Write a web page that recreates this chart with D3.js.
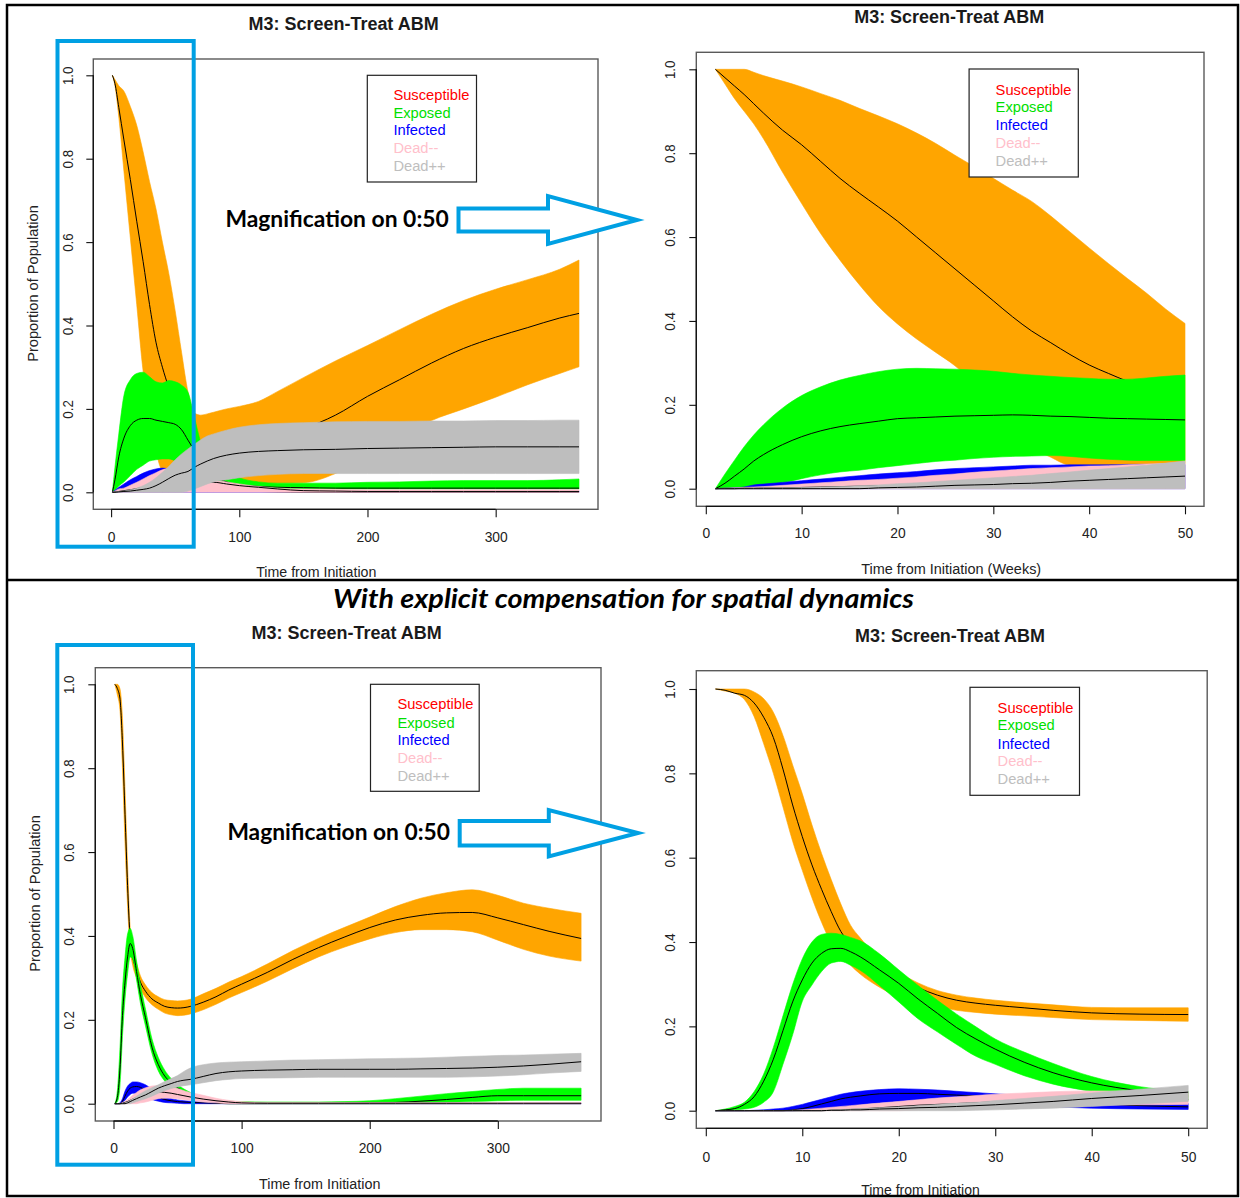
<!DOCTYPE html>
<html><head><meta charset="utf-8">
<script src="https://cdn.jsdelivr.net/npm/d3@7"></script>
<style>html,body{margin:0;padding:0;background:#fff;}svg{display:block;}</style>
</head><body>
<svg id="c" width="1240" height="1198"></svg>
<script>
// ---------------- DATA ----------------
const seriesNames = ["Susceptible","Exposed","Infected","Dead--","Dead++"];
const bandColors = ["#FFA500","#00FF00","#0000FF","#FFC0CB","#BEBEBE"];
const legendColors = ["#FF0000","#00E000","#0000FF","#FFC0CB","#BEBEBE"];
const xTicksDays = [0,100,200,300];
const xTicksWeeks = [0,10,20,30,40,50];
const yTicks = [0,0.2,0.4,0.6,0.8,1.0];

// Panel 1: top-left (0..365)
const p1_t = [1,3,6,10,15,20,25,30,35,40,45,50,55,60,65,70,75,80,90,100,115,130,150,175,200,225,250,275,300,325,350,365];
const p1_S_hi = [1.0,0.99,0.975,0.962,0.925,0.88,0.816,0.745,0.68,0.6,0.525,0.435,0.335,0.24,0.19,0.185,0.188,0.192,0.2,0.206,0.218,0.242,0.275,0.315,0.352,0.39,0.427,0.46,0.487,0.51,0.535,0.557];
const p1_S_lo = [1.0,0.975,0.9,0.77,0.61,0.45,0.29,0.2,0.1,0.053,0.05,0.045,0.04,0.035,0.03,0.028,0.027,0.026,0.025,0.024,0.022,0.022,0.023,0.045,0.085,0.13,0.172,0.2,0.228,0.258,0.285,0.301];
const p1_S_mid = [1.0,0.98,0.923,0.845,0.75,0.65,0.553,0.45,0.36,0.3,0.25,0.2,0.16,0.14,0.13,0.115,0.11,0.108,0.107,0.11,0.118,0.13,0.152,0.185,0.23,0.27,0.31,0.345,0.372,0.395,0.418,0.429];
const p1_E_hi = [0,0.06,0.14,0.232,0.27,0.285,0.288,0.277,0.265,0.262,0.268,0.265,0.257,0.24,0.18,0.12,0.09,0.07,0.05,0.035,0.025,0.022,0.022,0.022,0.024,0.025,0.027,0.028,0.028,0.028,0.03,0.032];
const p1_E_lo = [0,0.005,0.015,0.025,0.04,0.055,0.065,0.075,0.078,0.08,0.08,0.075,0.065,0.05,0.04,0.03,0.025,0.02,0.015,0.012,0.01,0.008,0.008,0.008,0.008,0.008,0.008,0.008,0.008,0.008,0.008,0.008];
const p1_E_mid = [0,0.03,0.085,0.13,0.16,0.173,0.177,0.177,0.173,0.17,0.167,0.163,0.15,0.125,0.1,0.075,0.055,0.04,0.025,0.018,0.014,0.012,0.011,0.01,0.01,0.01,0.01,0.01,0.01,0.01,0.01,0.01];
const p1_I_hi = [0,0.005,0.012,0.02,0.03,0.038,0.046,0.052,0.056,0.058,0.056,0.052,0.047,0.042,0.037,0.032,0.028,0.024,0.018,0.013,0.008,0.005,0.004,0.003,0.003,0.003,0.003,0.003,0.003,0.003,0.003,0.003];
const p1_I_lo = [0,0,0,0,0,0,0,0,0,0,0,0,0,0,0,0,0,0,0,0,0,0,0,0,0,0,0,0,0,0,0,0];
const p1_I_mid = [0,0.002,0.005,0.008,0.012,0.016,0.02,0.022,0.024,0.025,0.024,0.022,0.02,0.017,0.015,0.012,0.01,0.008,0.005,0.003,0.002,0.001,0,0,0,0,0,0,0,0,0,0];
const p1_D1_hi = [0,0.003,0.008,0.01,0.017,0.024,0.032,0.04,0.047,0.054,0.057,0.052,0.045,0.04,0.036,0.033,0.031,0.029,0.025,0.02,0.014,0.01,0.008,0.007,0.006,0.006,0.006,0.006,0.006,0.006,0.006,0.006];
const p1_D1_lo = [0,0,0,0,0,0,0,0,0,0,0,0,0,0,0,0,0,0,0,0,0,0,0,0,0,0,0,0,0,0,0,0];
const p1_D1_mid = [0,0.001,0.002,0.004,0.006,0.009,0.012,0.015,0.018,0.021,0.023,0.024,0.024,0.024,0.024,0.024,0.024,0.024,0.02,0.016,0.012,0.008,0.004,0.003,0.002,0.002,0.002,0.002,0.002,0.002,0.002,0.002];
const p1_D2_hi = [0,0.001,0.002,0.003,0.006,0.01,0.016,0.024,0.035,0.048,0.062,0.078,0.092,0.104,0.115,0.126,0.135,0.14,0.149,0.156,0.162,0.165,0.167,0.169,0.17,0.17,0.171,0.171,0.172,0.172,0.173,0.173];
const p1_D2_lo = [0,0,0,0,0,0,0,0,0,0,0,0,0,0.003,0.008,0.014,0.02,0.025,0.03,0.035,0.04,0.043,0.045,0.045,0.045,0.045,0.045,0.045,0.045,0.045,0.045,0.045];
const p1_D2_mid = [0,0,0.001,0.002,0.003,0.005,0.007,0.01,0.016,0.024,0.033,0.041,0.046,0.05,0.06,0.068,0.075,0.081,0.089,0.094,0.098,0.1,0.102,0.103,0.105,0.106,0.107,0.108,0.109,0.109,0.109,0.109];

// Panel 2: top-right (weeks 0..50)
const p2_t = [1,2,3,4,5,6,8,10,12,14,16,18,20,22,24,26,28,30,32,34,36,38,40,42,44,46,48,50];
const p2_S_hi = [1.0,1.0,1.0,1.0,0.993,0.985,0.972,0.958,0.942,0.926,0.907,0.889,0.87,0.848,0.823,0.795,0.768,0.74,0.712,0.685,0.65,0.612,0.574,0.537,0.501,0.466,0.428,0.394];
const p2_S_lo = [1.0,0.965,0.93,0.9,0.87,0.835,0.755,0.68,0.608,0.545,0.487,0.435,0.393,0.357,0.325,0.293,0.25,0.2,0.15,0.1,0.075,0.056,0.054,0.054,0.055,0.056,0.058,0.06];
const p2_S_mid = [1.0,0.98,0.96,0.94,0.918,0.896,0.855,0.82,0.78,0.74,0.705,0.672,0.638,0.6,0.562,0.524,0.486,0.448,0.41,0.376,0.348,0.32,0.295,0.275,0.256,0.24,0.226,0.214];
const p2_E_hi = [0,0.035,0.068,0.1,0.128,0.152,0.192,0.222,0.243,0.259,0.27,0.279,0.285,0.287,0.286,0.285,0.283,0.28,0.275,0.271,0.268,0.265,0.263,0.261,0.261,0.264,0.268,0.271];
const p2_E_lo = [0,0.001,0.002,0.004,0.005,0.008,0.014,0.024,0.033,0.04,0.044,0.05,0.055,0.06,0.065,0.068,0.072,0.075,0.077,0.078,0.079,0.077,0.073,0.07,0.068,0.067,0.067,0.067];
const p2_E_mid = [0,0.013,0.03,0.047,0.066,0.081,0.105,0.124,0.138,0.148,0.155,0.161,0.167,0.169,0.171,0.173,0.174,0.175,0.176,0.175,0.173,0.172,0.17,0.168,0.167,0.166,0.165,0.164];
const p2_I_hi = [0,0.001,0.002,0.004,0.009,0.011,0.015,0.019,0.023,0.027,0.031,0.035,0.038,0.041,0.045,0.048,0.05,0.052,0.054,0.056,0.056,0.057,0.057,0.057,0.058,0.058,0.058,0.058];
const p2_I_lo = [0,0,0,0,0,0,0,0,0,0,0,0,0,0,0,0,0,0,0,0,0,0,0,0,0,0,0,0];
const p2_I_mid = [0,0.001,0.001,0.002,0.003,0.003,0.005,0.007,0.008,0.01,0.012,0.013,0.015,0.016,0.018,0.019,0.02,0.021,0.022,0.023,0.024,0.025,0.026,0.027,0.027,0.028,0.028,0.029];
const p2_D1_hi = [0,0.001,0.002,0.003,0.004,0.005,0.008,0.011,0.014,0.017,0.02,0.022,0.025,0.028,0.032,0.035,0.039,0.042,0.045,0.048,0.05,0.052,0.054,0.055,0.057,0.059,0.06,0.062];
const p2_D1_lo = [0,0,0,0,0,0,0,0,0,0,0,0,0,0,0,0,0,0,0,0,0,0,0,0,0,0,0,0];
const p2_D1_mid = [0,0,0,0.001,0.001,0.002,0.002,0.003,0.004,0.005,0.006,0.007,0.008,0.009,0.01,0.011,0.012,0.013,0.014,0.015,0.016,0.017,0.018,0.019,0.02,0.021,0.022,0.023];
const p2_D2_hi = [0,0.001,0.001,0.001,0.001,0.002,0.002,0.003,0.004,0.005,0.007,0.009,0.012,0.014,0.017,0.02,0.023,0.026,0.029,0.032,0.036,0.04,0.044,0.048,0.052,0.056,0.061,0.066];
const p2_D2_lo = [0,0,0,0,0,0,0,0,0,0,0,0,0,0,0,0,0,0,0,0,0,0,0,0,0,0,0,0];
const p2_D2_mid = [0,0,0,0,0,0,0,0,0,0,0,0.002,0.003,0.004,0.006,0.008,0.009,0.01,0.012,0.013,0.015,0.018,0.02,0.022,0.024,0.026,0.028,0.03];

// Panel 3: bottom-left (0..365)
const p3_t = [1,3,5,7,9,11,13,15,18,21,25,30,35,40,45,50,55,60,70,80,90,100,120,140,160,180,200,220,240,260,280,300,320,340,365];
const p3_S_mid = [1.0,0.99,0.967,0.86,0.69,0.52,0.395,0.35,0.318,0.29,0.268,0.25,0.24,0.232,0.229,0.228,0.229,0.232,0.242,0.255,0.271,0.285,0.313,0.344,0.372,0.397,0.42,0.438,0.449,0.455,0.456,0.443,0.427,0.411,0.394];
const p3_S_hi = [1.0,1.0,0.99,0.92,0.75,0.57,0.42,0.37,0.335,0.305,0.283,0.265,0.255,0.248,0.246,0.245,0.246,0.249,0.262,0.275,0.29,0.303,0.333,0.365,0.394,0.42,0.445,0.47,0.49,0.503,0.51,0.497,0.478,0.466,0.454];
const p3_S_lo = [1.0,0.975,0.94,0.8,0.62,0.47,0.37,0.33,0.3,0.275,0.253,0.236,0.225,0.216,0.212,0.21,0.211,0.214,0.224,0.237,0.252,0.265,0.292,0.322,0.35,0.373,0.393,0.408,0.415,0.415,0.41,0.39,0.368,0.352,0.34];
const p3_E_mid = [0,0.015,0.08,0.21,0.29,0.35,0.382,0.37,0.315,0.26,0.205,0.135,0.093,0.066,0.05,0.038,0.028,0.02,0.01,0.005,0.003,0.002,0.001,0.001,0.001,0.001,0.002,0.003,0.006,0.01,0.015,0.019,0.019,0.019,0.019];
const p3_E_hi = [0,0.03,0.13,0.27,0.35,0.405,0.418,0.4,0.34,0.285,0.225,0.155,0.11,0.08,0.06,0.046,0.035,0.027,0.016,0.01,0.006,0.005,0.004,0.004,0.004,0.005,0.007,0.012,0.018,0.024,0.029,0.034,0.037,0.037,0.037];
const p3_E_lo = [0,0.005,0.04,0.16,0.25,0.31,0.35,0.345,0.295,0.24,0.185,0.12,0.078,0.054,0.04,0.03,0.021,0.014,0.006,0.002,0,0,0,0,0,0,0,0,0.001,0.003,0.005,0.007,0.008,0.008,0.008];
const p3_I_hi = [0,0,0.002,0.012,0.03,0.042,0.048,0.052,0.052,0.05,0.045,0.035,0.025,0.016,0.012,0.009,0.007,0.006,0.004,0.003,0.002,0.001,0.001,0.001,0.001,0.001,0.001,0.001,0.001,0.001,0.001,0.001,0.001,0.001,0.001];
const p3_I_lo = [0,0,0,0.002,0.008,0.016,0.022,0.025,0.025,0.022,0.016,0.01,0.006,0.003,0.002,0.001,0,0,0,0,0,0,0,0,0,0,0,0,0,0,0,0,0,0,0];
const p3_I_mid = [0,0,0,0.006,0.018,0.03,0.037,0.04,0.041,0.039,0.032,0.022,0.015,0.01,0.007,0.005,0.004,0.003,0.002,0.001,0,0,0,0,0,0,0,0,0,0,0,0,0,0,0];
const p3_D1_hi = [0,0,0,0.003,0.006,0.01,0.015,0.02,0.027,0.033,0.038,0.042,0.043,0.042,0.04,0.036,0.031,0.027,0.02,0.013,0.008,0.005,0.003,0.003,0.003,0.003,0.003,0.003,0.003,0.003,0.003,0.003,0.003,0.003,0.003];
const p3_D1_lo = [0,0,0,0,0,0,0,0,0,0.002,0.004,0.008,0.012,0.013,0.013,0.012,0.01,0.008,0.004,0.002,0,0,0,0,0,0,0,0,0,0,0,0,0,0,0];
const p3_D1_mid = [0,0,0,0.001,0.003,0.005,0.008,0.011,0.015,0.019,0.024,0.027,0.028,0.027,0.025,0.022,0.019,0.016,0.011,0.007,0.004,0.002,0.001,0.001,0.001,0.001,0.001,0.001,0.001,0.001,0.001,0.001,0.001,0.001,0.001];
const p3_D2_hi = [0,0,0,0,0.002,0.004,0.008,0.012,0.018,0.024,0.031,0.038,0.045,0.053,0.06,0.067,0.077,0.085,0.093,0.097,0.099,0.1,0.102,0.104,0.105,0.106,0.107,0.108,0.109,0.111,0.113,0.115,0.116,0.118,0.12];
const p3_D2_lo = [0,0,0,0,0,0,0,0.002,0.005,0.008,0.012,0.018,0.025,0.031,0.036,0.04,0.043,0.045,0.05,0.055,0.058,0.06,0.061,0.062,0.063,0.063,0.063,0.063,0.063,0.063,0.064,0.066,0.069,0.073,0.077];
const p3_D2_mid = [0,0,0,0,0,0.002,0.005,0.008,0.012,0.016,0.021,0.029,0.037,0.043,0.048,0.053,0.056,0.058,0.065,0.072,0.076,0.078,0.08,0.081,0.082,0.082,0.082,0.082,0.083,0.084,0.085,0.087,0.09,0.094,0.1];

// Panel 4: bottom-right (weeks 0..50)
const p4_t = [1,2,3,4,5,6,7,8,9,10,11,12,13,14,15,16,18,20,22,24,26,28,30,33,36,40,45,50];
const p4_S_mid = [1.0,0.997,0.99,0.985,0.967,0.933,0.885,0.81,0.725,0.65,0.583,0.525,0.472,0.425,0.395,0.375,0.34,0.315,0.292,0.274,0.262,0.255,0.25,0.244,0.238,0.232,0.229,0.228];
const p4_S_hi = [1.0,1.0,1.0,1.0,0.993,0.977,0.945,0.89,0.82,0.752,0.678,0.61,0.548,0.49,0.44,0.41,0.36,0.328,0.303,0.285,0.274,0.267,0.262,0.256,0.251,0.245,0.244,0.244];
const p4_S_lo = [1.0,0.995,0.99,0.975,0.935,0.87,0.8,0.72,0.639,0.57,0.505,0.447,0.398,0.37,0.345,0.324,0.293,0.269,0.257,0.247,0.238,0.233,0.229,0.225,0.221,0.216,0.214,0.212];
const p4_E_mid = [0,0.002,0.005,0.015,0.033,0.07,0.122,0.19,0.258,0.31,0.35,0.373,0.384,0.385,0.377,0.365,0.334,0.302,0.265,0.231,0.197,0.17,0.146,0.115,0.09,0.066,0.047,0.035];
const p4_E_hi = [0,0.004,0.01,0.02,0.045,0.087,0.15,0.225,0.299,0.36,0.4,0.418,0.421,0.418,0.411,0.403,0.372,0.334,0.297,0.262,0.229,0.199,0.17,0.139,0.112,0.081,0.057,0.045];
const p4_E_lo = [0,0,0.002,0.004,0.008,0.02,0.045,0.11,0.18,0.259,0.298,0.33,0.35,0.354,0.345,0.333,0.297,0.258,0.218,0.187,0.157,0.129,0.11,0.083,0.063,0.046,0.032,0.025];
const p4_I_hi = [0,0,0,0,0.001,0.002,0.004,0.006,0.01,0.015,0.021,0.027,0.033,0.039,0.043,0.046,0.05,0.052,0.051,0.049,0.046,0.043,0.04,0.036,0.031,0.025,0.02,0.017];
const p4_I_lo = [0,0,0,0,0,0,0,0,0,0.001,0.002,0.004,0.006,0.008,0.01,0.013,0.018,0.022,0.024,0.024,0.022,0.019,0.016,0.012,0.009,0.006,0.004,0.003];
const p4_I_mid = [0,0,0,0,0,0,0,0,0.002,0.005,0.01,0.016,0.022,0.028,0.032,0.035,0.04,0.041,0.041,0.039,0.037,0.035,0.032,0.027,0.022,0.017,0.012,0.009];
const p4_D1_hi = [0,0,0,0,0,0,0,0,0.001,0.002,0.004,0.006,0.008,0.01,0.012,0.014,0.018,0.022,0.026,0.03,0.033,0.036,0.039,0.042,0.045,0.047,0.046,0.044];
const p4_D1_lo = [0,0,0,0,0,0,0,0,0,0,0,0,0,0,0,0,0,0,0.002,0.004,0.005,0.006,0.008,0.01,0.012,0.013,0.014,0.015];
const p4_D1_mid = [0,0,0,0,0,0,0,0,0,0,0,0,0.001,0.002,0.003,0.004,0.007,0.01,0.013,0.015,0.017,0.019,0.021,0.023,0.024,0.025,0.026,0.026];
const p4_D2_hi = [0,0,0,0,0,0,0,0,0,0,0,0.001,0.002,0.003,0.004,0.005,0.007,0.009,0.012,0.015,0.018,0.02,0.024,0.029,0.034,0.042,0.051,0.06];
const p4_D2_lo = [0,0,0,0,0,0,0,0,0,0,0,0,0,0,0,0,0,0,0,0,0,0.001,0.002,0.004,0.006,0.01,0.016,0.022];
const p4_D2_mid = [0,0,0,0,0,0,0,0,0,0,0,0,0.001,0.001,0.002,0.002,0.004,0.005,0.007,0.008,0.01,0.012,0.014,0.018,0.022,0.029,0.036,0.044];

// ---------------- LAYOUT ----------------
const panels = [
  { t:p1_t, series:[[p1_S_lo,p1_S_mid,p1_S_hi],[p1_E_lo,p1_E_mid,p1_E_hi],[p1_I_lo,p1_I_mid,p1_I_hi],[p1_D1_lo,p1_D1_mid,p1_D1_hi],[p1_D2_lo,p1_D2_mid,p1_D2_hi]],
    box:[93.3,59,598,509.3], xDomain:[0,365], xRange:[111.1,579.0], yRange:[492.3,75.3], xTicks:xTicksDays,
    xTickBase:541.7, yTickCX:68.4, title:[343.6,30], xlab:["Time from Initiation",316.3,577.3,120.2],
    ylab:[33.2,283.5], legend:[367.3,75.3,476.5,182], legX:393.4, legRows:[94.7,112.3,130,147.7,165.3] },
  { t:p2_t, series:[[p2_S_lo,p2_S_mid,p2_S_hi],[p2_E_lo,p2_E_mid,p2_E_hi],[p2_I_lo,p2_I_mid,p2_I_hi],[p2_D1_lo,p2_D1_mid,p2_D1_hi],[p2_D2_lo,p2_D2_mid,p2_D2_hi]],
    box:[696.3,52.3,1204,506.3], xDomain:[0,50], xRange:[705.8,1185], yRange:[488.7,69.3], xTicks:xTicksWeeks,
    xTickBase:538.3, yTickCX:670.4, title:[949.2,23.3], xlab:["Time from Initiation (Weeks)",951.2,574,180],
    ylab:null, legend:[969.1,69,1078.3,177], legX:995.6, legRows:[89.3,107,125,142.7,160.3] },
  { t:p3_t, series:[[p3_S_lo,p3_S_mid,p3_S_hi],[p3_E_lo,p3_E_mid,p3_E_hi],[p3_I_lo,p3_I_mid,p3_I_hi],[p3_D1_lo,p3_D1_mid,p3_D1_hi],[p3_D2_lo,p3_D2_mid,p3_D2_hi]],
    box:[95.3,667.7,601,1121], xDomain:[0,365], xRange:[113.5,581.1], yRange:[1103.7,684.3], xTicks:xTicksDays,
    xTickBase:1153.3, yTickCX:69.2, title:[346.6,639], xlab:["Time from Initiation",319.7,1189.3,121.4],
    ylab:[34.6,893.5], legend:[370.5,684.3,479.2,791.3], legX:397.4, legRows:[703.7,722.3,739.7,758,775.3] },
  { t:p4_t, series:[[p4_S_lo,p4_S_mid,p4_S_hi],[p4_E_lo,p4_E_mid,p4_E_hi],[p4_I_lo,p4_I_mid,p4_I_hi],[p4_D1_lo,p4_D1_mid,p4_D1_hi],[p4_D2_lo,p4_D2_mid,p4_D2_hi]],
    box:[696.3,670.7,1207.2,1128.3], xDomain:[0,50], xRange:[705.8,1188.2], yRange:[1110.7,689], xTicks:xTicksWeeks,
    xTickBase:1161.7, yTickCX:670.4, title:[950,642.3], xlab:["Time from Initiation",920.5,1195,118.6],
    ylab:null, legend:[970,687.3,1079.5,795.3], legX:997.6, legRows:[707.3,725,743.3,760.7,778.3] }
];

const RFONT = "'Liberation Sans', Arial, sans-serif";
const svg = d3.select("#c");
svg.append("rect").attr("width",1240).attr("height",1198).attr("fill","#fff");

function txt(g, x, y, s, o) {
  o = o || {};
  const t = g.append("text").attr("x",x).attr("y",y).text(s)
    .attr("font-family", o.family || RFONT)
    .attr("font-size", o.size || 15)
    .attr("fill", o.fill || "#111")
    .attr("text-anchor", o.anchor || "middle");
  if (o.weight) t.attr("font-weight", o.weight);
  if (o.style) t.attr("font-style", o.style);
  if (o.width) t.attr("textLength", o.width).attr("lengthAdjust","spacingAndGlyphs");
  if (o.transform) t.attr("transform", o.transform);
  if (o.baseline) t.attr("dominant-baseline", o.baseline);
  return t;
}

function drawPanel(p) {
  const g = svg.append("g");
  const x = d3.scaleLinear().domain(p.xDomain).range(p.xRange);
  const y = d3.scaleLinear().domain([0,1]).range(p.yRange);
  p.series.forEach((s,i) => {
    const pts = p.t.map((t,j) => ({t:t, lo:s[0][j], mid:s[1][j], hi:s[2][j]}));
    const area = d3.area().x(d=>x(d.t)).y0(d=>y(d.lo)).y1(d=>y(d.hi)).curve(d3.curveMonotoneX);
    g.append("path").attr("d", area(pts)).attr("fill", bandColors[i]).attr("stroke", bandColors[i]).attr("stroke-width",0.6);
    const line = d3.line().x(d=>x(d.t)).y(d=>y(d.mid)).curve(d3.curveMonotoneX);
    g.append("path").attr("d", line(pts)).attr("fill","none").attr("stroke","#000").attr("stroke-width",1);
  });
  // box
  const [bx0,by0,bx1,by1] = p.box;
  g.append("rect").attr("x",bx0).attr("y",by0).attr("width",bx1-bx0).attr("height",by1-by0)
    .attr("fill","none").attr("stroke","#5a5a5a").attr("stroke-width",1.4);
  // x axis
  const gx = g.append("g").attr("transform",`translate(0,${by1})`)
    .call(d3.axisBottom(x).tickValues(p.xTicks).tickSize(8).tickSizeOuter(0).tickFormat(d3.format("d")));
  gx.select(".domain").remove();
  gx.selectAll(".tick line").attr("stroke","#111").attr("stroke-width",1.1);
  gx.selectAll(".tick text").attr("dy",null).attr("y", p.xTickBase - by1)
    .attr("font-family",RFONT).attr("font-size",15.5).attr("fill","#222")
    .each(function(d){ const s=String(d); d3.select(this).attr("textLength", s.length*7.7).attr("lengthAdjust","spacingAndGlyphs"); });
  g.append("line").attr("x1",x(p.xTicks[0])).attr("x2",x(p.xTicks[p.xTicks.length-1]))
    .attr("y1",by1).attr("y2",by1).attr("stroke","#111").attr("stroke-width",1.3);
  // y axis
  const gy = g.append("g").attr("transform",`translate(${bx0},0)`)
    .call(d3.axisLeft(y).tickValues(yTicks).tickSize(7).tickSizeOuter(0).tickFormat(d3.format(".1f")));
  gy.select(".domain").remove();
  gy.selectAll(".tick line").attr("stroke","#111").attr("stroke-width",1.1);
  gy.selectAll(".tick text").attr("x",0).attr("dy",null).attr("y", -(bx0 - p.yTickCX))
    .attr("transform","rotate(-90)").attr("text-anchor","middle").attr("dominant-baseline","central")
    .attr("font-family",RFONT).attr("font-size",14.5).attr("fill","#222")
    .attr("textLength",18.5).attr("lengthAdjust","spacingAndGlyphs");
  g.append("line").attr("x1",bx0).attr("x2",bx0).attr("y1",y(0)).attr("y2",y(1))
    .attr("stroke","#111").attr("stroke-width",1.3);
  // title
  txt(g, p.title[0], p.title[1], "M3: Screen-Treat ABM", {size:17.5, weight:"bold", width:190, fill:"#1a1a1a"});
  // x label
  txt(g, p.xlab[1], p.xlab[2], p.xlab[0], {size:15.5, width:p.xlab[3], fill:"#222"});
  // y label
  if (p.ylab) txt(g, 0, 0, "Proportion of Population", {size:14.6, fill:"#222", baseline:"central",
      transform:`translate(${p.ylab[0]},${p.ylab[1]}) rotate(-90)`});
  // legend
  const [lx0,ly0,lx1,ly1] = p.legend;
  g.append("rect").attr("x",lx0).attr("y",ly0).attr("width",lx1-lx0).attr("height",ly1-ly0)
    .attr("fill","#fff").attr("stroke","#222").attr("stroke-width",1.2);
  seriesNames.forEach((n,i) => {
    txt(g, p.legX, p.legRows[i] + 5.3, n, {size:14.7, anchor:"start", fill:legendColors[i]});
  });
}
panels.forEach(drawPanel);

// ---------------- ANNOTATIONS ----------------
const BLUE = "#00a0e3";
const ann = svg.append("g");
// zoom rectangles
ann.append("rect").attr("x",57.5).attr("y",41).attr("width",193.7-57.5).attr("height",546.7-41)
  .attr("fill","none").attr("stroke",BLUE).attr("stroke-width",4);
ann.append("rect").attr("x",57.3).attr("y",645).attr("width",193-57.3).attr("height",1164.7-645)
  .attr("fill","none").attr("stroke",BLUE).attr("stroke-width",4);
// arrows
function arrow(L, T, B, HB, HT, HBt, tipX, tipY) {
  const pts = [[L,T],[HB,T],[HB,HT],[tipX,tipY],[HB,HBt],[HB,B],[L,B]];
  ann.append("polygon").attr("points", pts.map(p=>p.join(",")).join(" "))
    .attr("fill","#fff").attr("stroke",BLUE).attr("stroke-width",4).attr("stroke-linejoin","miter");
}
arrow(458.5, 208.5, 231.5, 548, 196, 244, 637, 220);
arrow(459.7, 821, 845.5, 548.8, 810, 856.5, 638, 833);
// magnification labels
const CAL = "Lato, 'Open Sans', 'DejaVu Sans', sans-serif";
txt(ann, 225.4, 226.7, "Magnification on 0:50", {family:CAL, size:22, weight:"bold", anchor:"start", width:223.4, fill:"#000"});
txt(ann, 227.4, 840, "Magnification on 0:50", {family:CAL, size:22, weight:"bold", anchor:"start", width:222.6, fill:"#000"});
// heading
txt(ann, 623.5, 608.3, "With explicit compensation for spatial dynamics", {family:CAL, size:26, weight:"bold", style:"italic", width:581, fill:"#000"});
// frame
ann.append("rect").attr("x",7).attr("y",5).attr("width",1231).attr("height",1191)
  .attr("fill","none").attr("stroke","#000").attr("stroke-width",2.5);
ann.append("line").attr("x1",7).attr("x2",1238).attr("y1",580).attr("y2",580)
  .attr("stroke","#000").attr("stroke-width",2.5);
</script>
</body></html>
